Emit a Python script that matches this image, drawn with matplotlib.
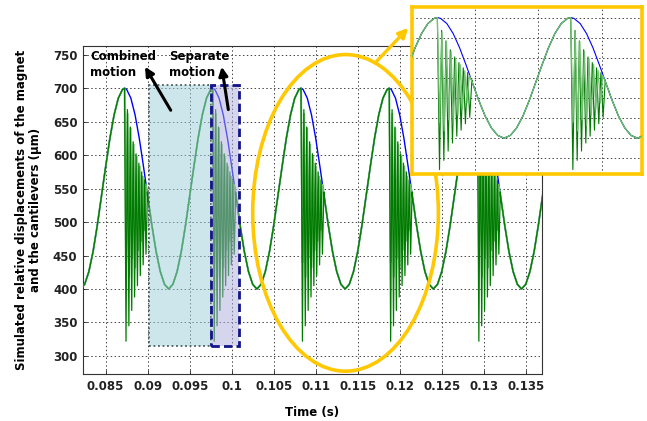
import matplotlib
matplotlib.use("Agg")
import matplotlib.pyplot as plt
from matplotlib.patches import Ellipse, Rectangle

# one magnet cycle, starting at a trough (s after trough, um)
cycle_t = [0, 0.0005, 0.001, 0.0015, 0.002, 0.0025, 0.003, 0.0035, 0.004, 0.0045, 0.005, 0.00525,
           0.0055, 0.006, 0.0065, 0.007, 0.0075, 0.008, 0.0085, 0.009, 0.0095, 0.01, 0.0105]
magnet_um = [400, 407, 426, 456, 495, 539, 583, 625, 660, 685, 698, 700,
             698, 685, 660, 625, 583, 539, 495, 456, 426, 407, 400]
trough_t = [0.0820, 0.0925, 0.1030, 0.1135, 0.1240, 0.1345]
PEAK = 11      # index of the peak in cycle_t
REJOIN = 17    # index where the cantilevers stick to the magnet again

# free ringing of the two cantilevers after release at the peak (um), half-period steps
cant1_um = [700, 322, 668, 345, 642, 368, 620, 388, 602, 405, 588, 420, 575, 436, 563, 452, 545]
cant2_um = [700, 440, 662, 418, 640, 446, 616, 432, 598, 458, 583, 472, 568, 488, 556]
cant1_half = 0.00017
cant2_half = 0.00018

xticks = [0.085, 0.09, 0.095, 0.1, 0.105, 0.11, 0.115, 0.12, 0.125, 0.13, 0.135]
xtick_labels = ["0.085", "0.09", "0.095", "0.1", "0.105", "0.11", "0.115", "0.12", "0.125", "0.13", "0.135"]
yticks = [300, 350, 400, 450, 500, 550, 600, 650, 700, 750]


def magnet_series():
    t, y = [], []
    for T in trough_t:
        t += [T + c for c in cycle_t]
        y += magnet_um
    return t, y


def cantilever_series(ring, half):
    t, y = [], []
    for T in trough_t:
        peak = T + cycle_t[PEAK]
        t += [T + c for c in cycle_t[:PEAK]]
        y += magnet_um[:PEAK]
        t += [peak + k * half for k in range(len(ring))]
        y += ring
        t += [T + c for c in cycle_t[REJOIN:]]
        y += magnet_um[REJOIN:]
    return t, y


mag_t, mag_y = magnet_series()
c1_t, c1_y = cantilever_series(cant1_um, cant1_half)
c2_t, c2_y = cantilever_series(cant2_um, cant2_half)

plt.rcParams["font.family"] = ["DejaVu Sans"]
plt.rcParams["font.weight"] = "bold"

GOLD = "#FFC800"
DARK = "#007A00"
LIGHT = "#72C072"
grid_ls = (0, (1.5, 2.5))

fig = plt.figure(figsize=(6.47, 4.21), dpi=100)
ax = fig.add_axes([83 / 647, 47 / 421, 458.7 / 647, 328 / 421])

ax.plot(mag_t, mag_y, color="#0000FF", lw=1.0, zorder=2)
ax.plot(c2_t, c2_y, color=LIGHT, lw=1.4, zorder=3)
ax.plot(c1_t, c1_y, color=DARK, lw=0.9, zorder=4)

ax.set_xlim(0.0823, 0.1369)
ax.set_ylim(273, 763)
ax.set_xticks(xticks)
ax.set_xticklabels(xtick_labels)
ax.set_yticks(yticks)
ax.tick_params(direction="in", length=3, width=0.6, labelsize=8.5, colors="#222222", pad=4)
ax.grid(True, color="#444444", linestyle=grid_ls, lw=0.7, zorder=0)
ax.set_axisbelow(True)
for s in ax.spines.values():
    s.set_color("#333333")
    s.set_linewidth(0.8)

ax.set_xlabel("Time (s)", fontsize=8.5, fontweight="bold")
ax.xaxis.set_label_coords(0.5, -0.098)
ax.set_ylabel("Simulated relative displacements of the magnet\nand the cantilevers (\u00b5m)",
              fontsize=8.5, fontweight="bold", labelpad=8, linespacing=1.1)

# shaded motion regions
ax.add_patch(Rectangle((0.09016, 315), 0.0975 - 0.09016, 389, facecolor="#9ccfd8", alpha=0.5,
                       edgecolor="none", zorder=5))
ax.add_patch(Rectangle((0.09016, 315), 0.0975 - 0.09016, 389, facecolor="none",
                       edgecolor="#4a5e60", lw=1.3, linestyle=(0, (1, 1.5)), zorder=5))
ax.add_patch(Rectangle((0.0975, 315), 0.1009 - 0.0975, 389, facecolor="#adadde", alpha=0.5,
                       edgecolor="none", zorder=5))
ax.add_patch(Rectangle((0.0975, 315), 0.1009 - 0.0975, 389, facecolor="none",
                       edgecolor="#14148a", lw=2.0, linestyle=(0, (3, 1.5)), zorder=5))

ax.text(0.08313, 757, "Combined\nmotion", fontsize=8.5, fontweight="bold", ha="left", va="top",
        linespacing=1.3, zorder=7)
ax.text(0.09257, 757, "Separate\nmotion", fontsize=8.5, fontweight="bold", ha="left", va="top",
        linespacing=1.3, zorder=7)
arrow_kw = dict(arrowstyle="-|>", color="black", lw=2.2, mutation_scale=13, shrinkA=0, shrinkB=0)
ax.annotate("", xy=(0.08968, 732), xytext=(0.09274, 667), arrowprops=arrow_kw, zorder=7)
ax.annotate("", xy=(0.09881, 732), xytext=(0.09960, 668), arrowprops=arrow_kw, zorder=7)

ax.add_patch(Ellipse((0.11355, 513.7), 0.0221, 473, fill=False, edgecolor=GOLD, lw=2.6, zorder=6))
ax.annotate("", xy=(0.12102, 790), xytext=(0.11706, 737.6), annotation_clip=False,
            arrowprops=dict(arrowstyle="-|>", color=GOLD, lw=2.4, mutation_scale=14,
                            shrinkA=0, shrinkB=0), zorder=7)

# zoomed inset
axi = fig.add_axes([411.7 / 647, (421 - 174) / 421, 230 / 647, 167.3 / 421])
axi.plot(mag_t, mag_y, color="#0000FF", lw=0.8, zorder=2)
axi.plot(c1_t, c1_y, color=DARK, lw=0.8, zorder=3)
axi.plot(c2_t, c2_y, color=LIGHT, lw=0.9, zorder=4)
axi.set_xlim(0.10623, 0.12434)
axi.set_ylim(311, 727)
axi.set_xticks([0.1112, 0.1162, 0.1212])
axi.set_yticks([350, 400, 450, 500, 550, 600, 650, 700])
axi.tick_params(length=0, labelleft=False, labelbottom=False)
axi.grid(True, color="#444444", linestyle=grid_ls, lw=0.7, zorder=0)
axi.set_axisbelow(True)
for s in axi.spines.values():
    s.set_color(GOLD)
    s.set_linewidth(2.6)

fig.savefig("out.png", dpi=100)
